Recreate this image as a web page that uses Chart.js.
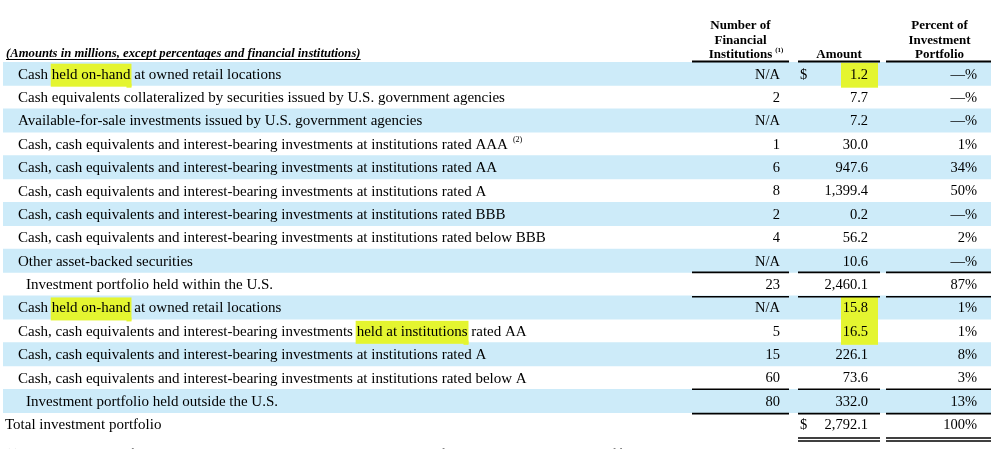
<!DOCTYPE html>
<html>
<head>
<meta charset="utf-8">
<script src="https://cdn.jsdelivr.net/npm/chart.js@4/dist/chart.umd.min.js"></script>
<style>
  html, body { margin: 0; padding: 0; background: #fff; }
  #wrap { width: 1000px; height: 449px; position: relative; }
</style>
</head>
<body>
<div id="wrap"><canvas id="tbl"></canvas></div>
<script>
// DATA
const rowLabels = [
  'Cash held on-hand at owned retail locations',
  'Cash equivalents collateralized by securities issued by U.S. government agencies',
  'Available-for-sale investments issued by U.S. government agencies',
  'Cash, cash equivalents and interest-bearing investments at institutions rated AAA',
  'Cash, cash equivalents and interest-bearing investments at institutions rated AA',
  'Cash, cash equivalents and interest-bearing investments at institutions rated A',
  'Cash, cash equivalents and interest-bearing investments at institutions rated BBB',
  'Cash, cash equivalents and interest-bearing investments at institutions rated below BBB',
  'Other asset-backed securities',
  'Investment portfolio held within the U.S.',
  'Cash held on-hand at owned retail locations',
  'Cash, cash equivalents and interest-bearing investments held at institutions rated AA',
  'Cash, cash equivalents and interest-bearing investments at institutions rated A',
  'Cash, cash equivalents and interest-bearing investments at institutions rated below A',
  'Investment portfolio held outside the U.S.',
  'Total investment portfolio'
];
const institutions = ['N/A', '2', 'N/A', '1', '6', '8', '2', '4', 'N/A', '23', 'N/A', '5', '15', '60', '80', ''];
const amounts = [1.2, 7.7, 7.2, 30.0, 947.6, 1399.4, 0.2, 56.2, 10.6, 2460.1, 15.8, 16.5, 226.1, 73.6, 332.0, 2792.1];
const percents = [0, 0, 0, 1, 34, 50, 0, 2, 0, 87, 1, 1, 8, 3, 13, 100];
const headerInst = ['Number of', 'Financial', 'Institutions'];
const headerAmt = ['Amount'];
const headerPct = ['Percent of', 'Investment', 'Portfolio'];
const caption = '(Amounts in millions, except percentages and financial institutions)';
const footnote = '(1) The available balances of cash, cash equivalents and investments held in the U.S. and outside of the U.S. are included in the number of financial institutions.';

// row kinds: 0 = detail, 1 = subtotal, 2 = total
const rowKind = [0, 0, 0, 0, 0, 0, 0, 0, 0, 1, 0, 0, 0, 0, 1, 2];
const supRows = { 3: '(2)' };
const markedText = { 0: 'held on-hand', 10: 'held on-hand', 11: 'held at institutions' };
const markedAmount = [0, 10, 11];
const dollarRows = [0, 15];

// LAYOUT
const serif = '"Liberation Serif", "Times New Roman", serif';
const labelFont = '15px ' + serif;
const numFont = '14.5px ' + serif;
const col = {
  instRight: 780, amtRight: 868, dollar: 800, pctRight: 977,
  inst: [692, 789], amt: [798, 880], pct: [886, 991]
};
const indent = [18, 26, 5];
const bandColor = '#cdebf9';
const markColor = '#e4f530';

function fmtAmount(v) {
  return v.toLocaleString('en-US', { minimumFractionDigits: 1, maximumFractionDigits: 1 });
}
function fmtPct(v) {
  return v === 0 ? '\u2014%' : v + '%';
}

const tablePlugin = {
  id: 'tablePlugin',
  afterDatasetsDraw(chart) {
    const ctx = chart.ctx;
    const y = chart.scales.y;
    const rowH = Math.abs(y.getPixelForValue(1) - y.getPixelForValue(0));
    ctx.save();

    // highlighter marks, over the bands and under the text
    ctx.fillStyle = markColor;
    ctx.font = labelFont;
    Object.keys(markedText).forEach(k => {
      const i = +k;
      const label = rowLabels[i];
      const pos = label.indexOf(markedText[i]);
      const x0 = indent[rowKind[i]] + ctx.measureText(label.slice(0, pos)).width;
      const w = ctx.measureText(markedText[i]).width;
      const cy = y.getPixelForValue(i);
      ctx.fillRect(x0 - 1, cy - 10, w + 2, 23);
      ctx.fillRect(x0 + w - 4, cy + 10, 5, 4);
    });
    ctx.font = numFont;
    markedAmount.forEach(i => {
      const cy = y.getPixelForValue(i);
      ctx.fillRect(col.amtRight - 27, cy - 11, 37, 25);
    });

    ctx.fillStyle = '#000';
    ctx.strokeStyle = '#000';

    // caption
    ctx.font = 'italic bold 12.7px ' + serif;
    ctx.textBaseline = 'alphabetic';
    ctx.textAlign = 'left';
    ctx.fillText(caption, 6, 57);
    const cw = ctx.measureText(caption).width;
    ctx.lineWidth = 1;
    ctx.beginPath();
    ctx.moveTo(6, 59.5); ctx.lineTo(6 + cw, 59.5);
    ctx.stroke();

    // column headers
    ctx.font = 'bold 13px ' + serif;
    ctx.textAlign = 'center';
    const hdrY = [29, 44, 58];
    const instC = (col.inst[0] + col.inst[1]) / 2;
    headerInst.forEach((t, k) => ctx.fillText(t, instC, hdrY[k]));
    const iw = ctx.measureText(headerInst[2]).width;
    ctx.font = 'bold 7px ' + serif;
    ctx.textAlign = 'left';
    ctx.fillText('(1)', instC + iw / 2 + 3, 52);
    ctx.font = 'bold 13px ' + serif;
    ctx.textAlign = 'center';
    ctx.fillText(headerAmt[0], (col.amt[0] + col.amt[1]) / 2, hdrY[2]);
    headerPct.forEach((t, k) => ctx.fillText(t, (col.pct[0] + col.pct[1]) / 2 + 1, hdrY[k]));

    // body rows
    ctx.textBaseline = 'middle';
    rowLabels.forEach((label, i) => {
      const cy = y.getPixelForValue(i) + 1;
      ctx.font = labelFont;
      ctx.textAlign = 'left';
      const x0 = indent[rowKind[i]];
      ctx.fillText(label, x0, cy);
      if (supRows[i]) {
        const lw = ctx.measureText(label).width;
        ctx.font = '8px ' + serif;
        ctx.fillText(supRows[i], x0 + lw + 5, cy - 5);
      }
      ctx.font = numFont;
      ctx.textAlign = 'right';
      ctx.fillText(institutions[i], col.instRight, cy);
      ctx.fillText(fmtAmount(amounts[i]), col.amtRight, cy);
      ctx.fillText(fmtPct(percents[i]), col.pctRight, cy);
      if (dollarRows.includes(i)) {
        ctx.textAlign = 'left';
        ctx.fillText('$', col.dollar, cy);
      }
    });

    // rules
    const rule = (span, yy, lw) => {
      ctx.lineWidth = lw;
      ctx.beginPath();
      ctx.moveTo(span[0], yy); ctx.lineTo(span[1], yy);
      ctx.stroke();
    };
    const top = i => y.getPixelForValue(i) - rowH / 2;
    const bottom = i => y.getPixelForValue(i) + rowH / 2;
    [col.inst, col.amt, col.pct].forEach(s => rule(s, top(0) - 0.5, 2));
    rowKind.forEach((k, i) => {
      if (k === 1) {
        [col.inst, col.amt, col.pct].forEach(s => {
          rule(s, top(i), 1.6);
          rule(s, bottom(i) + 1, 1.6);
        });
      }
      if (k === 2) {
        [col.amt, col.pct].forEach(s => {
          rule(s, bottom(i) + 2, 1.3);
          rule(s, bottom(i) + 5, 1.3);
        });
      }
    });

    // footnote, clipped by the bottom edge
    ctx.font = '11px ' + serif;
    ctx.textAlign = 'left';
    ctx.textBaseline = 'alphabetic';
    ctx.fillText(footnote, 6, 456);
    ctx.restore();
  }
};

const data = {
  labels: rowLabels,
  datasets: [{
    label: 'bands',
    data: rowLabels.map((_, i) => (i % 2 === 0 ? [0, 1] : null)),
    backgroundColor: bandColor,
    borderWidth: 0,
    barPercentage: 1,
    categoryPercentage: 1
  }]
};

const config = {
  type: 'bar',
  data,
  options: {
    indexAxis: 'y',
    responsive: true,
    maintainAspectRatio: false,
    animation: false,
    layout: { padding: { top: 62, bottom: 13, left: 3, right: 9 } },
    scales: {
      x: { type: 'linear', min: 0, max: 1, display: false },
      y: { type: 'category', display: false, offset: true }
    },
    plugins: {
      legend: { display: false },
      tooltip: { enabled: false }
    }
  },
  plugins: [tablePlugin]
};

const myChart = new Chart(document.getElementById('tbl'), config);
</script>
</body>
</html>
